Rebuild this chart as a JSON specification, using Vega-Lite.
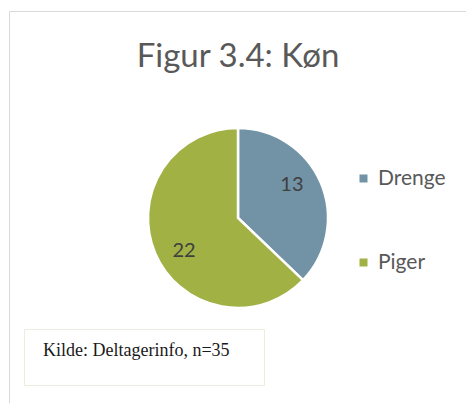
{
  "$schema": "https://vega.github.io/schema/vega-lite/v6.json",
  "padding": {"left": 9, "top": 11, "right": 0, "bottom": 0},
  "background": "white",
  "width": 458,
  "height": 414,
  "config": {
    "font": "Lato"
  },
  "view": {"stroke": "#D9D9D9", "strokeWidth": 1},
  "title": {
    "text": "Figur 3.4: Køn",
    "orient": "top",
    "anchor": "middle",
    "baseline": "alphabetic",
    "offset": -89,
    "font": "Lato",
    "fontSize": 33,
    "fontWeight": "normal",
    "color": "#595959"
  },
  "data": {
    "values": [
      {"Køn": "Drenge", "Antal": 13},
      {"Køn": "Piger", "Antal": 22}
    ]
  },
  "encoding": {
    "theta": {"field": "Antal", "type": "quantitative", "stack": true},
    "order": {"field": "Køn", "sort": "ascending"}
  },
  "layer": [
    {
      "mark": {"type": "arc", "outerRadius": 90, "stroke": "white", "strokeWidth": 2.5},
      "encoding": {
        "color": {
          "field": "Køn",
          "type": "nominal",
          "scale": {"domain": ["Drenge", "Piger"], "range": ["#7292A5", "#A1B143"]},
          "legend": {
            "title": null,
            "orient": "none",
            "legendX": 344,
            "legendY": 157,
            "symbolType": "square",
            "symbolSize": 64,
            "symbolStrokeWidth": 0,
            "labelFont": "Lato",
            "labelFontSize": 21,
            "labelColor": "#595959",
            "labelOffset": 4,
            "rowPadding": 62,
            "padding": 0
          }
        }
      }
    },
    {
      "mark": {"type": "text", "radius": 63, "thetaOffset": -0.14, "fontSize": 20, "font": "Lato", "color": "#404040"},
      "encoding": {
        "text": {"field": "Antal", "type": "quantitative"},
        "opacity": {
          "datum": "Kilde: Deltagerinfo, n=35",
          "type": "nominal",
          "scale": {"range": [1]},
          "legend": {
            "title": " ",
            "titleOrient": "right",
            "titlePadding": 21,
            "titleFontSize": 22,
            "titleBaseline": "top",
            "orient": "none",
            "legendX": 15,
            "legendY": 318,
            "padding": 13,
            "strokeColor": "#EEEBDF",
            "symbolSize": 625,
            "symbolType": "M0,0",
            "symbolFillColor": "transparent",
            "symbolStrokeColor": "transparent",
            "labelOffset": -21,
            "labelFont": "Liberation Serif",
            "labelFontSize": 18,
            "labelColor": "#1a1a1a",
            "labelBaseline": "alphabetic",
            "labelLimit": 400,
            "encode": {
              "legend": {"update": {"strokeWidth": {"value": 2}}}
            }
          }
        }
      }
    }
  ]
}
